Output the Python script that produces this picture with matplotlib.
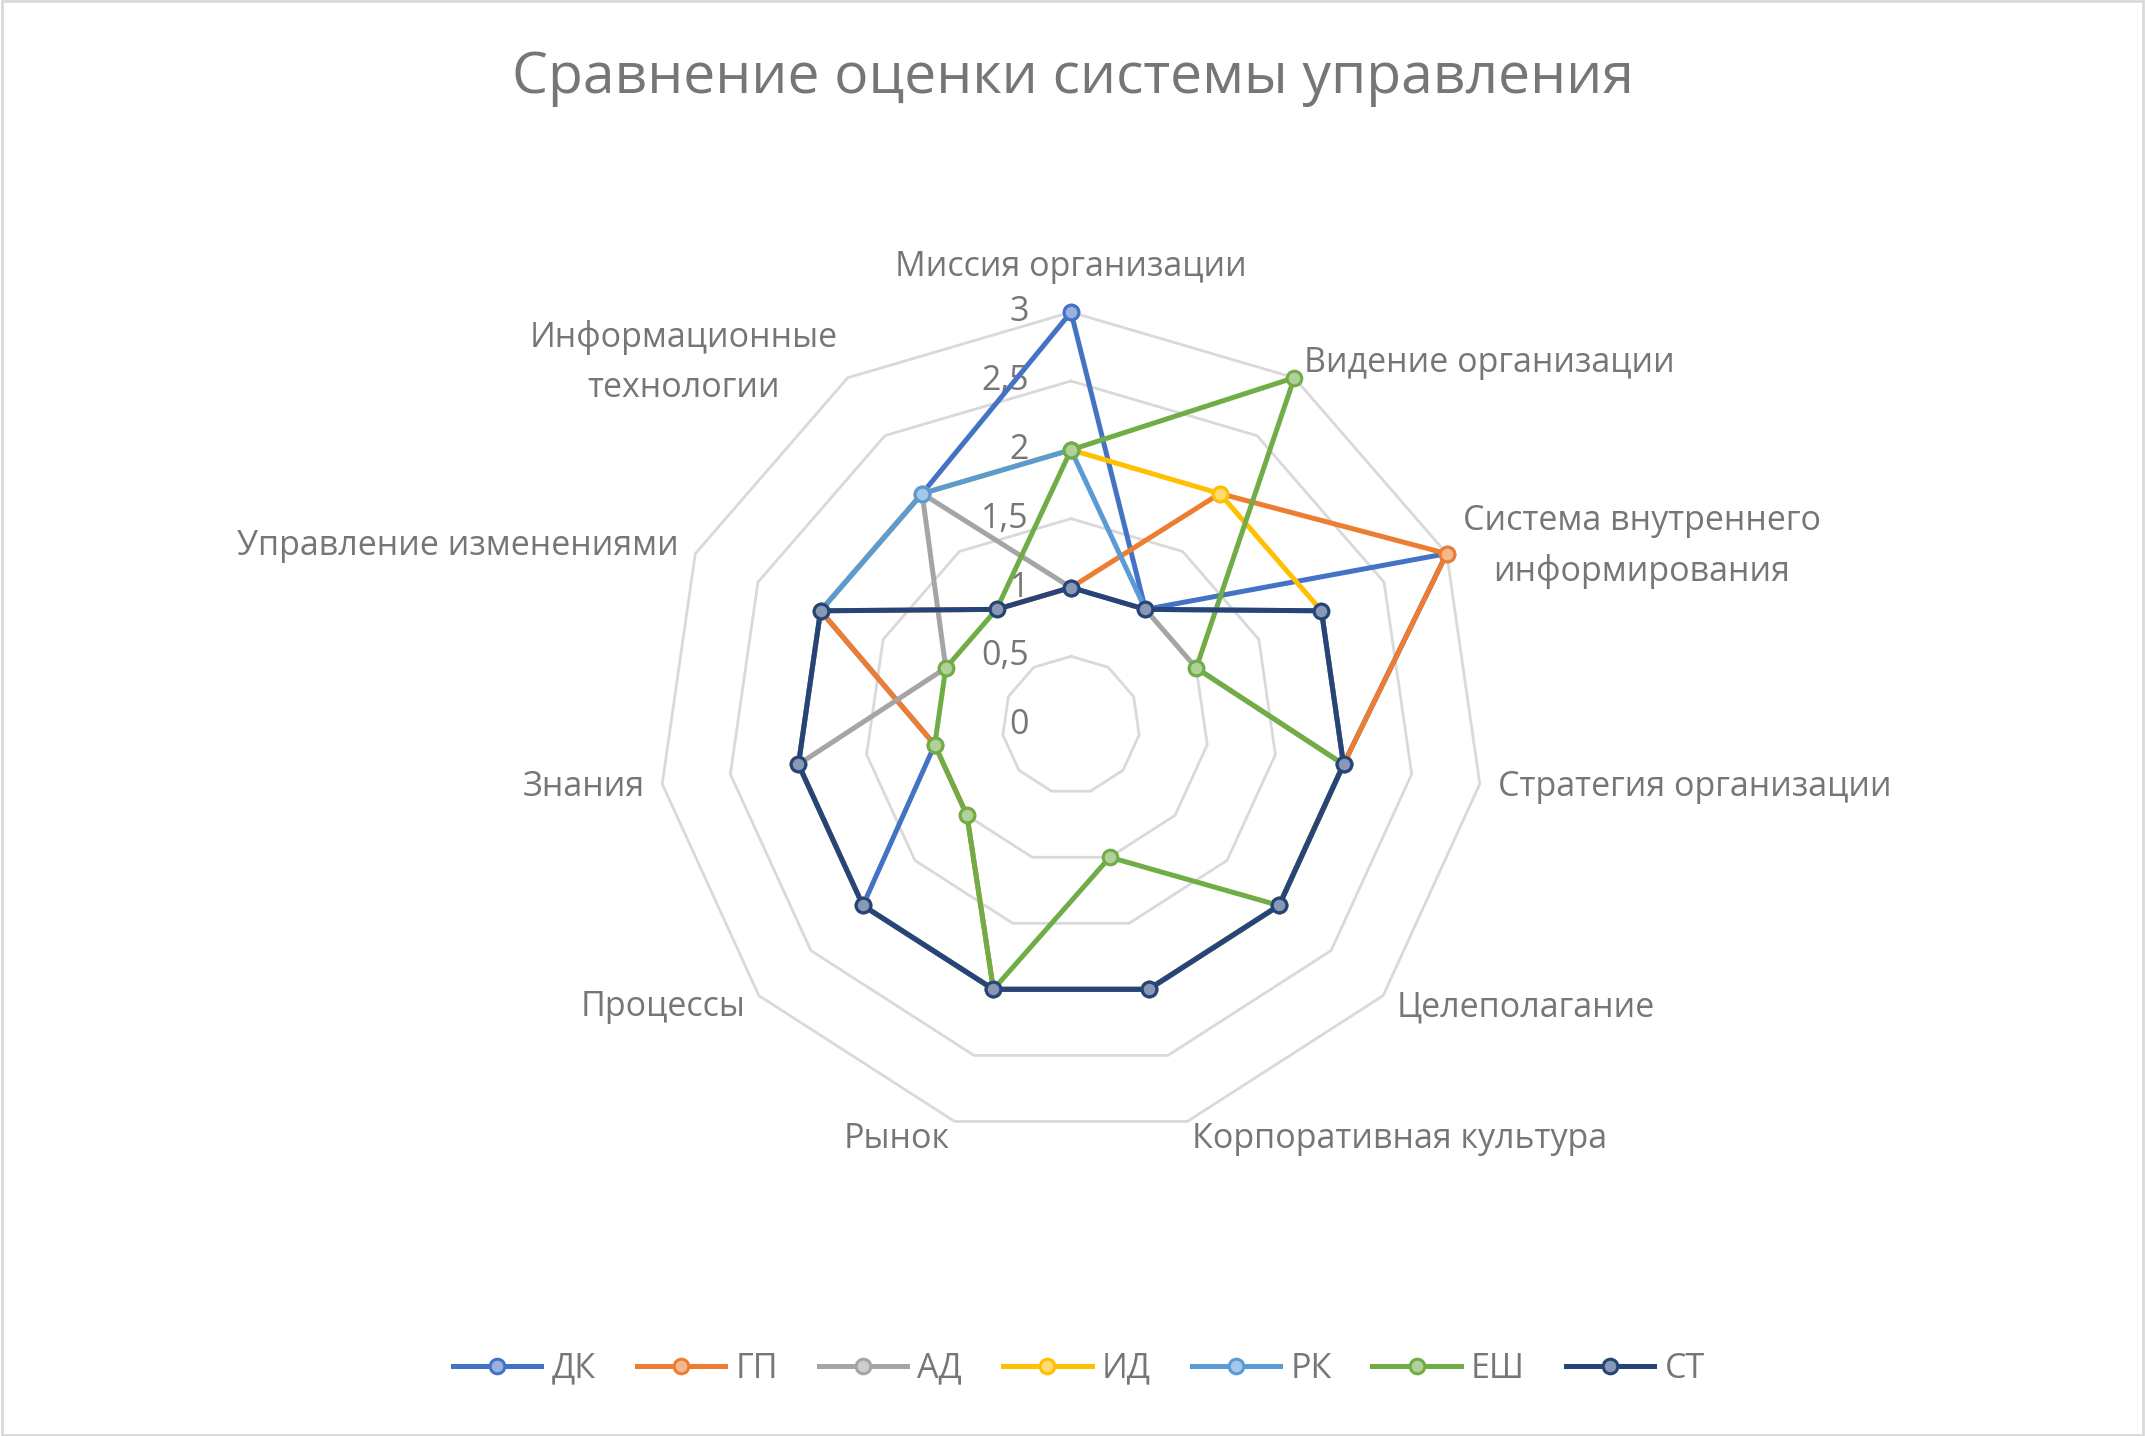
import numpy as np
import matplotlib
matplotlib.use('Agg')
import matplotlib.pyplot as plt
from matplotlib.lines import Line2D
from matplotlib.patches import Rectangle
from matplotlib.transforms import offset_copy
from matplotlib.colors import to_rgb

plt.rcParams['font.family'] = ['Open Sans', 'DejaVu Sans']

categories = [
    'Миссия организации',
    'Видение организации',
    'Система внутреннего\nинформирования',
    'Стратегия организации',
    'Целеполагание',
    'Корпоративная культура',
    'Рынок',
    'Процессы',
    'Знания',
    'Управление изменениями',
    'Информационные\nтехнологии',
]

series_names = ['ДК', 'ГП', 'АД', 'ИД', 'РК', 'ЕШ', 'СТ']

dk = [3, 1, 3, 2, 2, 2, 2, 2, 1, 2, 2]
gp = [1, 2, 3, 2, 2, 2, 2, 1, 1, 2, 1]
ad = [1, 1, 1, 2, 2, 2, 2, 2, 2, 1, 2]
id_ = [2, 2, 2, 2, 2, 2, 2, 2, 2, 2, 2]
rk = [2, 1, 2, 2, 2, 2, 2, 2, 2, 2, 2]
esh = [2, 3, 1, 2, 2, 1, 2, 1, 1, 1, 1]
st = [1, 1, 2, 2, 2, 2, 2, 2, 2, 2, 1]

tick_values = [0, 0.5, 1, 1.5, 2, 2.5, 3]
tick_labels = ['0', '0,5', '1', '1,5', '2', '2,5', '3']

colors = ['#4472C4', '#ED7D31', '#A5A5A5', '#FFC000', '#5B9BD5', '#70AD47', '#264478']


def tint(c, amount=0.45):
    r, g, b = to_rgb(c)
    return (r + (1 - r) * amount, g + (1 - g) * amount, b + (1 - b) * amount)


text_color = '#767676'
grid_color = '#D9D9D9'
fs = 24.5

fig = plt.figure(figsize=(21.45, 14.36), dpi=100)
fig.patches.append(Rectangle((0.001, 0.001), 0.998, 0.998, transform=fig.transFigure,
                             fill=False, edgecolor='#D9D9D9', linewidth=2))

ax = fig.add_axes([0.4993 - 0.1926, 0.495 - 0.2876, 0.3852, 0.5752], projection='polar')
ax.set_theta_offset(np.pi / 2)
ax.set_theta_direction(-1)
ax.set_ylim(0, 3)
ax.grid(False)
ax.spines['polar'].set_visible(False)
ax.set_xticks([])
ax.set_yticks([])
ax.patch.set_alpha(0)

n = len(categories)
angles = np.linspace(0, 2 * np.pi, n, endpoint=False)
closed = np.append(angles, angles[0])

# polygon gridlines
for r in tick_values[1:]:
    ax.plot(closed, [r] * (n + 1), color=grid_color, linewidth=2, zorder=1, clip_on=False)

# tick labels to the left of the top spoke
trans = offset_copy(ax.transData, fig=fig, x=-42, y=0, units='dots')
for v, lab in zip(tick_values, tick_labels):
    ax.text(0, v, lab, transform=trans, ha='right', va='center', fontsize=fs, color=text_color)

# category labels
for a, lab in zip(angles, categories):
    s = np.sin(a)
    if abs(s) < 0.05:
        ax.text(a, 3.33, lab, ha='center', va='center', fontsize=fs, color=text_color)
    else:
        ax.text(a, 3.13, lab, ha='left' if s > 0 else 'right', va='center',
                multialignment='center', fontsize=fs, color=text_color, linespacing=1.6)

all_series = [dk, gp, ad, id_, rk, esh, st]
handles = []
for i, (name, vals, c) in enumerate(zip(series_names, all_series, colors)):
    v = np.append(vals, vals[0])
    ax.plot(closed, v, color=c, linewidth=3.6, marker='o', markersize=10.5,
            markerfacecolor=tint(c), markeredgecolor=c, markeredgewidth=2.2,
            zorder=3 + i, clip_on=False)
    handles.append(Line2D([], [], color=c, linewidth=3.6, marker='o', markersize=10.5,
                          markerfacecolor=tint(c), markeredgecolor=c, markeredgewidth=2.2))

fig.text(0.5, 0.945, 'Сравнение оценки системы управления', ha='center', va='center',
         fontsize=41, color=text_color)

leg = fig.legend(handles, series_names, loc='center', bbox_to_anchor=(0.503, 0.047), ncol=7,
                 frameon=False, fontsize=fs, handlelength=2.6, handletextpad=0.3,
                 columnspacing=1.2)
for t in leg.get_texts():
    t.set_color(text_color)

fig.savefig('out.png', dpi=100)
